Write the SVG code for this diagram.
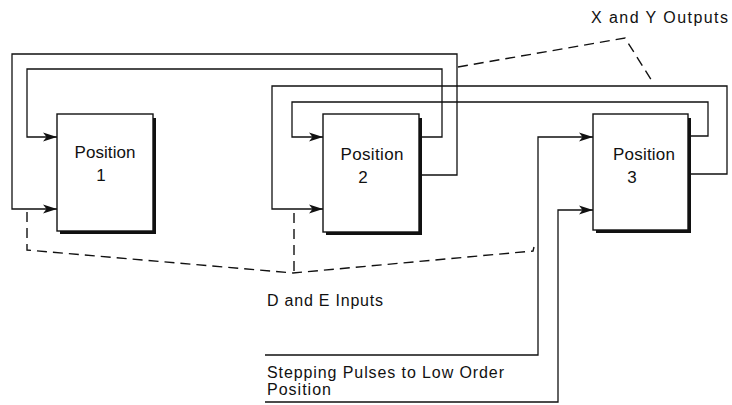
<svg xmlns="http://www.w3.org/2000/svg" width="732" height="405" viewBox="0 0 732 405">
<style>
.bg{fill:#ffffff}
.box{fill:#ffffff;stroke:#111;stroke-width:1.4}
.shadow{fill:none;stroke:#111;stroke-width:3}
.wire{fill:none;stroke:#111;stroke-width:1.3}
.dash{fill:none;stroke:#111;stroke-width:1.4;stroke-dasharray:10 6}
.t{font-family:"Liberation Sans",Arial,sans-serif;font-size:16px;fill:#111}
.p{font-size:17px}
</style>
<defs>
<marker id="arr" markerWidth="16" markerHeight="10" refX="14" refY="5" orient="auto" markerUnits="userSpaceOnUse">
<path d="M0,0.5 L14,5 L0,9.5 L3.5,5 Z" fill="#111"/>
</marker>
</defs>
<rect class="bg" x="0" y="0" width="732" height="405"/>
<g id="connectors">
<polyline class="wire" points="422,175 457,175 457,54 12,54 12,209 57,209" marker-end="url(#arr)"/>
<polyline class="wire" points="422,137 442,137 442,69 27,69 27,137 57,137" marker-end="url(#arr)"/>
<polyline class="wire" points="690,174 727,174 727,86 272,86 272,209 323,209" marker-end="url(#arr)"/>
<polyline class="wire" points="690,136 708,136 708,102 292,102 292,137 323,137" marker-end="url(#arr)"/>
<polyline class="wire" points="265,355 538,355 538,137 593,137" marker-end="url(#arr)"/>
<polyline class="wire" points="265,402 558,402 558,210 593,210" marker-end="url(#arr)"/>
<polyline class="dash" points="458,67 625,38 652,81"/>
<polyline class="dash" points="27,212 27,250 293,273 533,251 534,247"/>
<line class="dash" x1="294" y1="213" x2="294" y2="273"/>
</g>
<g id="position1">
<rect class="box" x="57" y="114" width="96" height="117"/>
<polyline class="shadow" points="154.5,118 154.5,232.5 60,232.5"/>
<text class="t p" x="105" y="158" text-anchor="middle" textLength="61" lengthAdjust="spacing">Position</text>
<text class="t p" x="101" y="181" text-anchor="middle">1</text>
</g>
<g id="position2">
<rect class="box" x="323" y="114" width="96" height="118"/>
<polyline class="shadow" points="420.5,118 420.5,233.5 326,233.5"/>
<text class="t p" x="372" y="160" text-anchor="middle" textLength="63" lengthAdjust="spacing">Position</text>
<text class="t p" x="363" y="183" text-anchor="middle">2</text>
</g>
<g id="position3">
<rect class="box" x="593" y="114" width="95" height="116"/>
<polyline class="shadow" points="689.5,118 689.5,231.5 596,231.5"/>
<text class="t p" x="644" y="160" text-anchor="middle" textLength="62" lengthAdjust="spacing">Position</text>
<text class="t p" x="632" y="183" text-anchor="middle">3</text>
</g>
<g id="labels">
<text class="t" x="591" y="23" textLength="137" lengthAdjust="spacing">X and Y Outputs</text>
<text class="t" x="267" y="306" textLength="116" lengthAdjust="spacing">D and E Inputs</text>
<text class="t" x="267" y="378" textLength="237" lengthAdjust="spacing">Stepping Pulses to Low Order</text>
<text class="t" x="267" y="395" textLength="64" lengthAdjust="spacing">Position</text>
</g>
</svg>
